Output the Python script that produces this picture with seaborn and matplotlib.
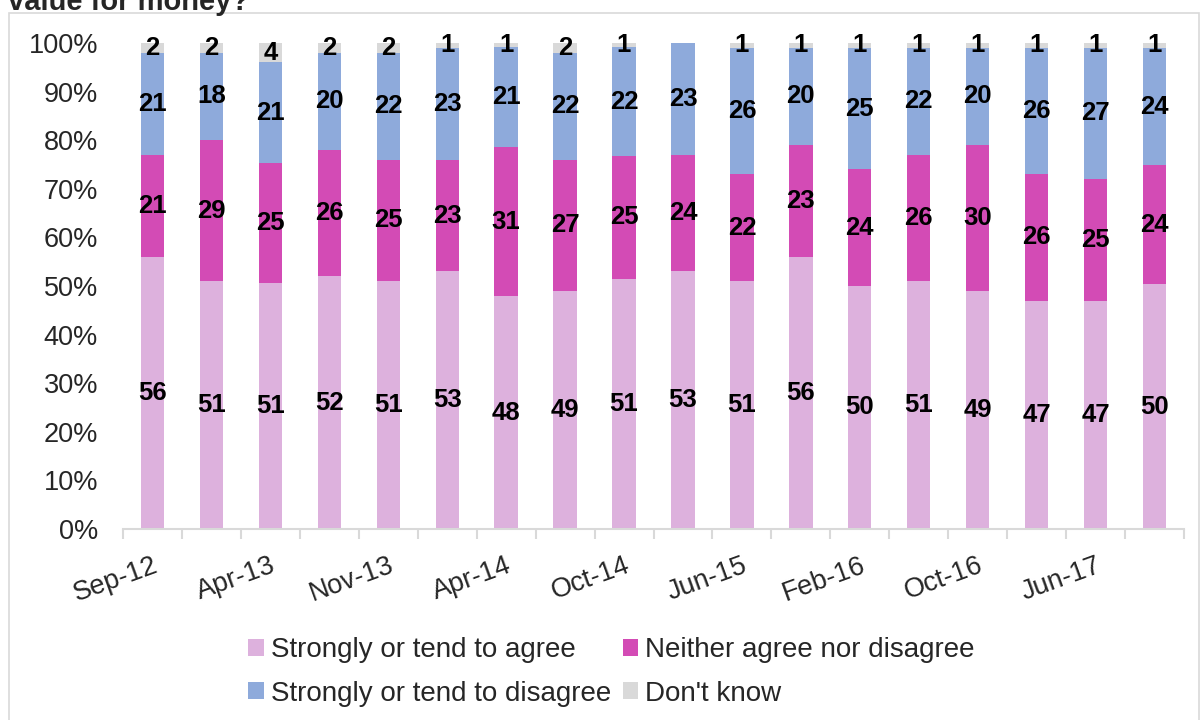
import matplotlib
matplotlib.use("Agg")
import matplotlib.pyplot as plt
from matplotlib.patches import Rectangle, Patch
import numpy as np
import pandas as pd
import seaborn as sns

# ---- data ----
waves = list(range(1, 19))
tick_labels = ["Sep-12", "", "Apr-13", "", "Nov-13", "", "Apr-14", "", "Oct-14", "",
               "Jun-15", "", "Feb-16", "", "Oct-16", "", "Jun-17", ""]
agree = [56, 51, 50.6, 52, 51, 53, 47.9, 49, 51.4, 53, 51, 56, 50, 51, 49, 47, 47, 50.4]
neither = [21, 29, 24.7, 26, 25, 23, 30.6, 27, 25.4, 24, 22, 23, 24, 26, 30, 26, 25, 24.4]
disagree = [21, 18, 20.7, 20, 22, 23, 20.6, 22, 22.3, 23, 26, 20, 25, 22, 20, 26, 27, 24.2]
dont_know = [2, 2, 4, 2, 2, 1, 0.9, 2, 0.9, 0, 1, 1, 1, 1, 1, 1, 1, 1]

series_names = ["Strongly or tend to agree", "Neither agree nor disagree",
                "Strongly or tend to disagree", "Don't know"]
series_vals = [agree, neither, disagree, dont_know]
colors = ["#DDB1DD", "#D34BB5", "#8EAADB", "#D9D9D9"]

sns.set_style("white")
plt.rcParams['font.family'] = ['Liberation Sans', 'DejaVu Sans']

fig = plt.figure(figsize=(12, 7.2), dpi=100)
ax = fig.add_axes([123 / 1200, 1 - 529 / 720, (1184 - 123) / 1200, (529 - 43) / 720])

df = pd.DataFrame({"wave": waves})
cum = np.zeros(len(waves))
bottoms = []
for name, vals in zip(series_names, series_vals):
    bottoms.append(cum.copy())
    cum = cum + np.array(vals, dtype=float)
    df[name] = cum.copy()

# draw tallest (cumulative) first so lower segments overlay
for name, col in reversed(list(zip(series_names, colors))):
    sns.barplot(data=df, x="wave", y=name, color=col, saturation=1, width=0.395,
                ax=ax, edgecolor="none", linewidth=0)

# data labels
for vals, bots in zip(series_vals, bottoms):
    for i, (v, b) in enumerate(zip(vals, bots)):
        if v <= 0:
            continue
        ax.text(i, b + v / 2, f"{round(v):d}", ha="center", va="center",
                fontsize=18.5, fontweight="bold", color="black")

ax.set_xlim(-0.5, len(waves) - 0.5)
ax.set_ylim(0, 100)
ax.set_yticks(np.arange(0, 101, 10))
ax.set_yticklabels([f"{v}%" for v in range(0, 101, 10)], fontsize=19.5)
ax.tick_params(axis="y", length=0, pad=18)

ax.set_xticks(range(len(waves)))
ax.set_xticklabels(tick_labels, fontsize=19.5, rotation=20, ha="right",
                   va="top", rotation_mode="anchor")
ax.tick_params(axis="x", which="major", length=0, pad=17)
ax.set_xticks(np.arange(-0.5, len(waves), 1), minor=True)
ax.tick_params(axis="x", which="minor", length=7, width=1.5, color="#D9D9D9",
               direction="out", bottom=True)
ax.set_xlabel("")
ax.set_ylabel("")

for s in ["top", "right", "left"]:
    ax.spines[s].set_visible(False)
ax.spines["bottom"].set_color("#D9D9D9")
ax.spines["bottom"].set_linewidth(1.5)
ax.grid(False)

# legend
handles = [Patch(facecolor=c, edgecolor="none") for c in colors]
order = [0, 2, 1, 3]
leg = fig.legend([handles[i] for i in order], [series_names[i] for i in order],
                 ncol=2, loc="center", bbox_to_anchor=(611.5 / 1200, 1 - 672 / 720),
                 frameon=False, fontsize=20, handlelength=0.55, handleheight=0.55,
                 handletextpad=0.25, columnspacing=0.43, labelspacing=0.62,
                 borderpad=0)

# chart border and partially visible title
fig.patches.append(Rectangle((9 / 1200, -0.01), (1199 - 9) / 1200, 1 - 13 / 720 + 0.01,
                             transform=fig.transFigure, fill=False,
                             edgecolor="#D9D9D9", linewidth=1.2))
fig.text(8 / 1200, 1 - 10 / 720, "value for money?", fontsize=21, fontweight="bold",
         va="baseline", ha="left")

fig.savefig("out.png", dpi=100)
